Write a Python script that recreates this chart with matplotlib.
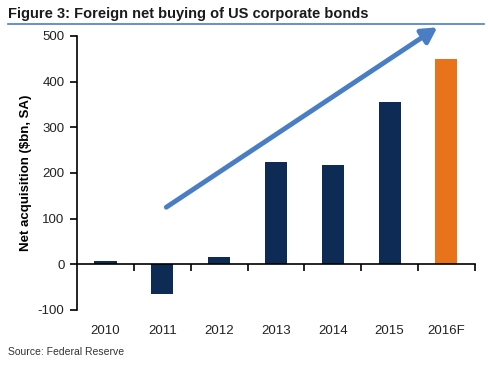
import matplotlib
matplotlib.use("Agg")
from matplotlib import pyplot as plt
from matplotlib import transforms

years = ['2010', '2011', '2012', '2013', '2014', '2015', '2016F']
values = [8, -66, 16, 225, 218, 355, 450]
colors = ['#0d2b55'] * 6 + ['#e8731a']
yticks = [-100, 0, 100, 200, 300, 400, 500]

plt.rcParams['font.family'] = ['Liberation Sans', 'DejaVu Sans']

fig = plt.figure(figsize=(4.88, 3.73), dpi=100)
ax = fig.add_axes([0.158, 0.169, 0.815, 0.7345])

x = list(range(len(years)))
ax.bar(x, values, width=0.39, color=colors, zorder=2)

ax.set_xlim(-0.5, len(years) - 0.5)
ax.set_ylim(-100, 500)
ax.set_yticks(yticks)
ax.set_yticklabels([str(t) for t in yticks], fontsize=9.5, color='#222222')

# x axis drawn at zero, ticks at category boundaries
ax.spines['bottom'].set_position(('data', 0))
ax.spines['top'].set_visible(False)
ax.spines['right'].set_visible(False)
ax.spines['left'].set_linewidth(1.2)
ax.spines['bottom'].set_linewidth(1.2)
ax.set_xticks([i + 0.5 for i in x])
ax.set_xticklabels([])
ax.tick_params(axis='x', direction='out', length=5, width=1.2)
ax.tick_params(axis='y', direction='out', length=5, width=1.2, pad=4)

trans = transforms.blended_transform_factory(ax.transData, ax.transAxes)
for i, lab in enumerate(years):
    ax.text(i, -0.075, lab, transform=trans, ha='center', va='center',
            fontsize=9.5, color='#222222')

ax.set_ylabel('Net acquisition ($bn, SA)', fontsize=9.5, fontweight='bold', labelpad=4)

# trend arrow
ax.annotate('', xy=(5.84, 519), xytext=(1.07, 125),
            arrowprops=dict(arrowstyle='-|>,head_length=0.9,head_width=0.5',
                            color='#4a7ec4', lw=3.5, shrinkA=0, shrinkB=0),
            annotation_clip=False, zorder=3)

fig.text(0.016, 0.962, 'Figure 3: Foreign net buying of US corporate bonds',
         fontsize=10.5, fontweight='bold', color='#1a1a1a', va='center')
fig.add_artist(plt.Line2D([0.016, 0.992], [0.936, 0.936], color='#4a7ec4',
                          lw=1.2, transform=fig.transFigure))
fig.text(0.016, 0.056, 'Source: Federal Reserve', fontsize=7.5,
         color='#333333', va='center')

plt.savefig('out.png', dpi=100)
